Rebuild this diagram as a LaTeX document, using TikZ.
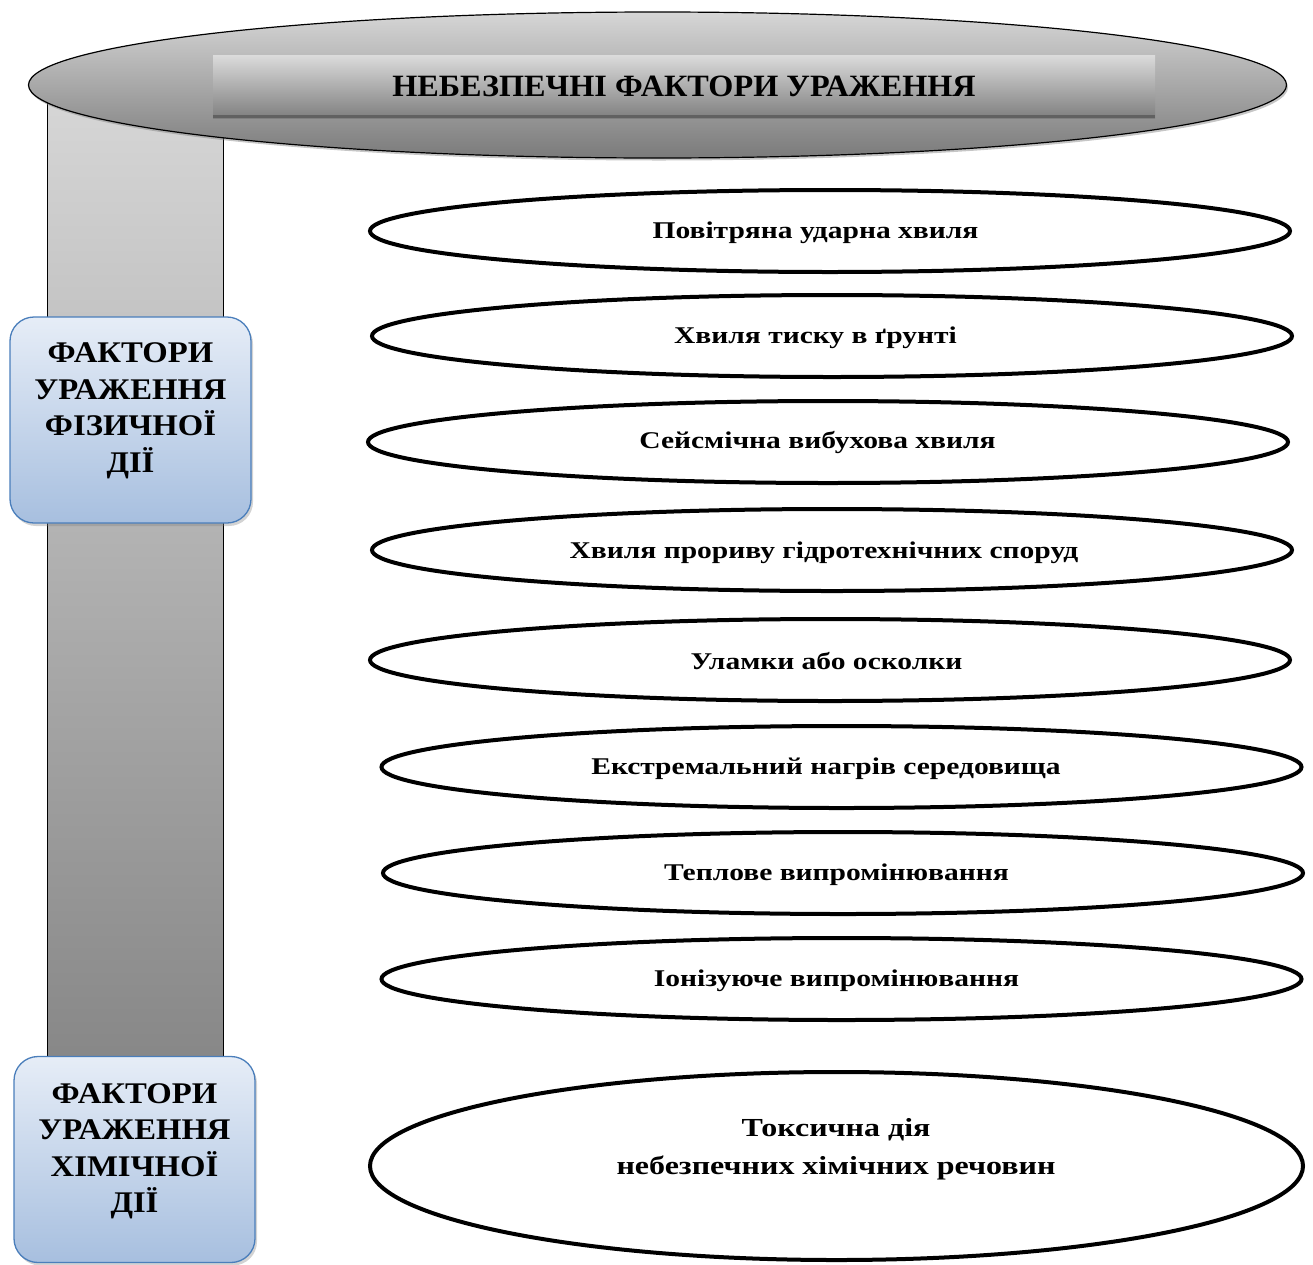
\documentclass[tikz,border=0pt]{standalone}
\usepackage{fontspec}
\setmainfont{Liberation Serif}
\newfontfamily\itemfont[FakeStretch=1.23]{Liberation Serif}
\newfontfamily\sidefont[FakeStretch=1.09]{Liberation Serif}
\newfontfamily\titlefont[FakeStretch=1.04]{Liberation Serif}
\usetikzlibrary{shapes.geometric,shadows}
\definecolor{boxtop}{HTML}{E6EDF7}
\definecolor{boxbot}{HTML}{A7BFDF}
\definecolor{boxline}{HTML}{4A7EBB}
\begin{document}
\begin{tikzpicture}[x=1pt,y=-1pt,
  item/.style={ellipse, draw=black, line width=4pt, fill=white, minimum width=920pt, minimum height=82pt, inner sep=0pt},
  itemtext/.style={font=\fontsize{24}{29}\itemfont\bfseries, align=center, inner sep=0pt},
  sidebox/.style={rectangle, rounded corners=24pt, draw=boxline, line width=1.3pt, top color=boxtop, bottom color=boxbot, minimum width=241pt, minimum height=206pt, drop shadow={shadow xshift=2pt, shadow yshift=-3pt, opacity=0.35}},
  sidetext/.style={font=\fontsize{30}{36.5}\sidefont\bfseries, align=center, inner sep=0pt}
]
\useasboundingbox (0,0) rectangle (1313,1264);
% vertical bar
\path[draw=black, line width=1pt, top color=black!16, middle color=black!23, bottom color=black!47] (47,95) rectangle (223,1062);
% top ellipse
\node[ellipse, draw=black, line width=1.2pt, top color=black!16, bottom color=black!52, minimum width=1258pt, minimum height=146pt, inner sep=0pt, drop shadow={shadow xshift=1.5pt, shadow yshift=-2.5pt, opacity=0.45}] (head) at (657.5,85) {};
\node[rectangle, top color=black!14, bottom color=black!50, minimum width=942pt, minimum height=63pt, inner sep=0pt] (banner) at (684,86.5) {};
\draw[black!62, line width=3pt] ([yshift=1.5pt]banner.south west) -- ([yshift=1.5pt]banner.south east);
\node[font=\fontsize{31}{35}\titlefont\bfseries, inner sep=0pt] (title) at (684,86) {НЕБЕЗПЕЧНІ ФАКТОРИ УРАЖЕННЯ};
% side boxes
\node[sidebox] (phys) at (130.5,420) {};
\node[sidetext] (physT) at (130.5,411) {ФАКТОРИ\\УРАЖЕННЯ\\ФІЗИЧНОЇ\\ДІЇ};
\node[sidebox] (chem) at (134.5,1159.5) {};
\node[sidetext] (chemT) at (134.5,1151) {ФАКТОРИ\\УРАЖЕННЯ\\ХІМІЧНОЇ\\ДІЇ};
% items
\node[item] (e1) at (830,231) {};
\node[itemtext] (e1T) at (815.5,233) {Повітряна ударна хвиля};
\node[item] (e2) at (832,336) {};
\node[itemtext] (e2T) at (815.5,338) {Хвиля тиску в ґрунті};
\node[item] (e3) at (828,442) {};
\node[itemtext] (e3T) at (817.5,442) {Сейсмічна вибухова хвиля};
\node[item] (e4) at (832,550) {};
\node[itemtext] (e4T) at (824,553) {Хвиля прориву гідротехнічних споруд};
\node[item] (e5) at (830,660) {};
\node[itemtext] (e5T) at (826.5,661) {Уламки або осколки};
\node[item] (e6) at (841.5,767) {};
\node[itemtext] (e6T) at (826,769) {Екстремальний нагрів середовища};
\node[item] (e7) at (843,873) {};
\node[itemtext] (e7T) at (836.5,875) {Теплове випромінювання};
\node[item] (e8) at (841.5,979) {};
\node[itemtext] (e8T) at (836.5,981) {Іонізуюче випромінювання};
\node[item, minimum width=933pt, minimum height=188pt] (e9) at (836.5,1166) {};
\node[font=\fontsize{26}{38}\itemfont\bfseries, align=center, inner sep=0pt] (e9T) at (836,1149) {Токсична дія\\небезпечних хімічних речовин};
\end{tikzpicture}
\end{document}
